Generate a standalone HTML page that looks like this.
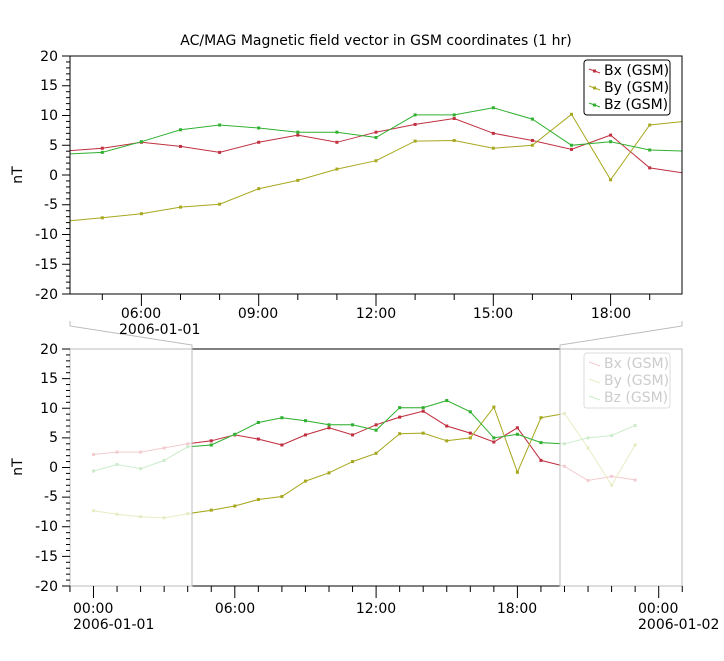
<!DOCTYPE html>
<html><head><meta charset="utf-8"><style>
body{margin:0;background:#fff}
svg text{font-family:"DejaVu Sans","Liberation Sans",sans-serif;font-size:14px;fill:#000}
</style></head><body>
<svg id="s" width="724" height="656" xmlns="http://www.w3.org/2000/svg">
<defs>
<clipPath id="ct"><rect x="70" y="56" width="612" height="238"/></clipPath>
<clipPath id="cb"><rect x="192" y="349" width="368" height="237"/></clipPath>
</defs>
<rect width="724" height="656" fill="#fff"/>
<text x="376" y="45" text-anchor="middle">AC/MAG  Magnetic field vector in GSM coordinates (1 hr)</text>
<g id="gtop"></g>
<g id="gbot"></g>
<rect x="70" y="56" width="612" height="238" fill="none" stroke="#000"/>
<line x1="70" y1="349" x2="682" y2="349" stroke="#000"/>
<line x1="70" y1="586" x2="682" y2="586" stroke="#000"/>
<line x1="682" y1="349" x2="682" y2="586" stroke="#000"/>
<line x1="70" y1="349" x2="70" y2="586" stroke="#000"/>
<g stroke="#bbb" fill="none">
<rect x="70" y="349" width="122" height="237"/>
<rect x="560" y="349" width="122" height="237"/>
<polyline points="70,321 70,326 192,345 192,349"/>
<polyline points="682,321 682,326 560,345 560,349"/>
</g>
<g id="ticks" stroke="#000"></g>
<g text-anchor="end">
<text x="58" y="61">20</text><text x="58" y="120">10</text><text x="58" y="90">15</text>
<text x="58" y="150">5</text><text x="58" y="180">0</text><text x="58" y="209">-5</text>
<text x="58" y="239">-10</text><text x="58" y="269">-15</text><text x="58" y="299">-20</text>
<text x="58" y="354">20</text><text x="58" y="383">15</text><text x="58" y="413">10</text>
<text x="58" y="442">5</text><text x="58" y="472">0</text><text x="58" y="501">-5</text>
<text x="58" y="531">-10</text><text x="58" y="561">-15</text><text x="58" y="591">-20</text>
</g>
<text transform="translate(22,175) rotate(-90)" text-anchor="middle">nT</text>
<text transform="translate(22,467) rotate(-90)" text-anchor="middle">nT</text>
<text x="141" y="318" text-anchor="middle">06:00</text>
<text x="119" y="334">2006-01-01</text>
<text x="258" y="318" text-anchor="middle">09:00</text>
<text x="376" y="318" text-anchor="middle">12:00</text>
<text x="493" y="318" text-anchor="middle">15:00</text>
<text x="611" y="318" text-anchor="middle">18:00</text>
<text x="73" y="613">00:00</text>
<text x="73" y="629">2006-01-01</text>
<text x="235" y="613" text-anchor="middle">06:00</text>
<text x="376" y="613" text-anchor="middle">12:00</text>
<text x="517" y="613" text-anchor="middle">18:00</text>
<text x="638" y="613">00:00</text>
<text x="638" y="629">2006-01-02</text>
<rect x="584" y="60" width="86" height="55" rx="3" fill="#fff" stroke="#000"/>
<g id="leg"></g>
<rect x="584" y="353" width="86" height="55" rx="3" fill="#fff" stroke="#ddd"/>
<g id="leg2"></g>
<text x="604" y="75">Bx (GSM)</text><text x="604" y="92">By (GSM)</text><text x="604" y="109">Bz (GSM)</text>
<text x="604" y="368" style="fill:#ccc">Bx (GSM)</text><text x="604" y="385" style="fill:#ccc">By (GSM)</text><text x="604" y="402" style="fill:#ccc">Bz (GSM)</text>
</svg>
<script>
(function(){
var NS="http://www.w3.org/2000/svg";
function el(p,n,a){var e=document.createElementNS(NS,n);for(var k in a)e.setAttribute(k,a[k]);p.appendChild(e);return e;}
var bx=[2.2,2.6,2.6,3.3,4,4.5,5.5,4.8,3.8,5.5,6.7,5.5,7.2,8.5,9.5,7,5.8,4.3,6.7,1.2,0.2,-2.2,-1.5,-2.1];
var by=[-7.3,-7.9,-8.3,-8.5,-7.8,-7.2,-6.5,-5.4,-4.9,-2.3,-0.9,1,2.4,5.7,5.8,4.5,5,10.2,-0.8,8.4,9.1,3.3,-3,3.8];
var bz=[-0.6,0.5,-0.2,1.2,3.5,3.8,5.6,7.6,8.4,7.9,7.2,7.2,6.3,10.1,10.1,11.3,9.4,5,5.6,4.2,4,5,5.4,7.1];
var cols=["#c03040","#a8a820","#30b030"],fade=["#f2ccd0","#e8ecc4","#cdeccd"];
var S=[bx,by,bz];
var gt=document.getElementById("gtop"),gb=document.getElementById("gbot");
function draw(g,xf,yf,col,clip,d){
  var gg=el(g,"g",clip?{"clip-path":"url(#"+clip+")"}:{});
  var pts=d.map(function(v,i){return xf(i).toFixed(1)+","+yf(v).toFixed(1)}).join(" ");
  el(gg,"polyline",{points:pts,fill:"none",stroke:col,"stroke-width":1});
  d.forEach(function(v,i){el(gg,"rect",{x:xf(i)-1.5,y:yf(v)-1.5,width:3,height:3,fill:col});});
}
var xt=function(h){return 376+(h-12)*39.1},yt=function(v){return 175-v*5.95};
var xb=function(h){return 93.5+h*23.55},yb=function(v){return 467.5-v*5.925};
for(var k=0;k<3;k++){
  draw(gt,xt,yt,cols[k],"ct",S[k]);
  draw(gb,xb,yb,fade[k],null,S[k]);
  draw(gb,xb,yb,cols[k],"cb",S[k]);
}
var t=document.getElementById("ticks");
for(var v=-20;v<=20;v++){var L=v%5==0?8:4;
  el(t,"line",{x1:70-L,x2:70,y1:yt(v),y2:yt(v)});
  el(t,"line",{x1:70-L,x2:70,y1:yb(v),y2:yb(v)});}
for(var h=5;h<=19;h++){var L=h%3==0?12:6;el(t,"line",{x1:xt(h),x2:xt(h),y1:294,y2:294+L});}
for(var h=-1;h<=25;h++){var L=h%6==0?12:6;el(t,"line",{x1:xb(h),x2:xb(h),y1:586,y2:586+L});}
var lg=document.getElementById("leg"),lg2=document.getElementById("leg2");
for(var k=0;k<3;k++){var y=71+k*17;
  el(lg,"line",{x1:589,y1:y-2,x2:600,y2:y+2,stroke:cols[k]});
  el(lg,"rect",{x:593,y:y-1.5,width:3,height:3,fill:cols[k]});
  el(lg2,"line",{x1:589,y1:y+291,x2:600,y2:y+295,stroke:fade[k]});}
})();
</script>
</body></html>
